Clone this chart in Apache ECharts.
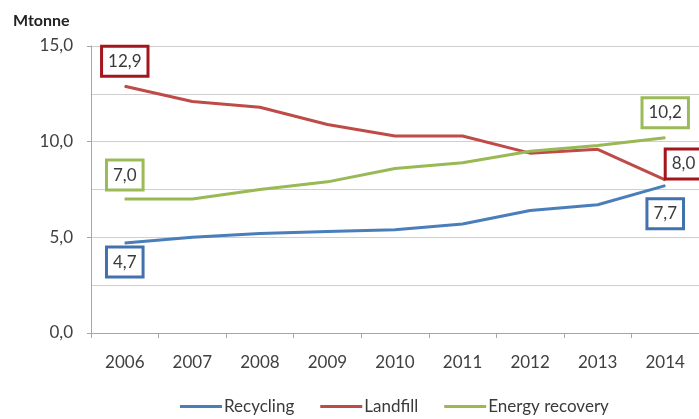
<!DOCTYPE html>
<html>
<head>
<meta charset="utf-8">
<script src="https://cdn.jsdelivr.net/npm/echarts@6/dist/echarts.min.js"></script>
<style>html,body{margin:0;padding:0;background:#fff}#c{width:699px;height:419px}</style>
</head>
<body>
<div id="c"></div>
<script>
var years = ['2006','2007','2008','2009','2010','2011','2012','2013','2014'];
var recycling = [4.7, 5.0, 5.2, 5.3, 5.4, 5.7, 6.4, 6.7, 7.7];
var landfill = [12.9, 12.1, 11.8, 10.9, 10.3, 10.3, 9.4, 9.6, 8.0];
var energyRecovery = [7.0, 7.0, 7.5, 7.9, 8.6, 8.9, 9.5, 9.8, 10.2];
var seriesNames = ['Recycling', 'Landfill', 'Energy recovery'];
var yTicks = [0, 5, 10, 15];
var unitLabel = 'Mtonne';

var FONT = 'Lato';
function fmt(v){ return v.toFixed(1).replace('.', ','); }

function boxLabel(borderColor, pos, dist, offset){
  return {
    show: true, position: pos, distance: dist, offset: offset || [0,0],
    formatter: function(p){ return fmt(p.value); },
    color: '#3a3a3a', fontFamily: FONT, fontSize: 17, lineHeight: 19,
    backgroundColor: '#fff', borderColor: borderColor, borderWidth: 3, borderRadius: 0,
    padding: [4, 5, 4, 5]
  };
}
function build(vals, firstLbl, lastLbl){
  return vals.map(function(v, i){
    if (i === 0) return {value: v, label: firstLbl};
    if (i === vals.length - 1) return {value: v, label: lastLbl};
    return v;
  });
}
function lineSeries(name, color, vals, firstLbl, lastLbl, z){
  return {
    name: name, type: 'line', symbol: 'circle', symbolSize: 1, showSymbol: true, z: z,
    lineStyle: {color: color, width: 3}, itemStyle: {color: color},
    label: {show: false},
    data: build(vals, firstLbl, lastLbl)
  };
}

var chart = echarts.init(document.getElementById('c'), null, {renderer:'canvas'});
chart.setOption({
  animation: false,
  backgroundColor: '#fff',
  title: {
    text: unitLabel, left: 8, top: 8,
    textStyle: {fontFamily: FONT, fontSize: 16, fontWeight: 'bold', color: '#222'}
  },
  grid: {left: 91, right: -2, top: 46, bottom: 86, containLabel: false},
  legend: {
    left: 175, top: 393, itemWidth: 42, itemHeight: 3, itemGap: 26,
    icon: 'rect',
    textStyle: {fontFamily: FONT, fontSize: 17, color: '#3a3a3a', padding: [0,0,0,-3]},
    data: seriesNames
  },
  xAxis: {
    type: 'category', data: years, boundaryGap: true,
    axisLine: {lineStyle: {color: '#a6a6a6', width: 1}},
    axisTick: {show: true, length: 5, lineStyle: {color: '#a6a6a6'}},
    axisLabel: {fontFamily: FONT, fontSize: 17, color: '#404040', margin: 21}
  },
  yAxis: {
    type: 'value', min: 0, max: 15, interval: 5,
    axisLine: {show: true, lineStyle: {color: '#a6a6a6', width: 1}},
    axisTick: {show: true, length: 4, lineStyle: {color: '#a6a6a6'}},
    axisLabel: {fontFamily: FONT, fontSize: 17, color: '#404040', margin: 18,
      formatter: function(v){ return yTicks.indexOf(v) >= 0 ? fmt(v) : ''; }},
    splitLine: {show: true, lineStyle: {color: '#cfcfcf', width: 1}},
    minorTick: {show: false, splitNumber: 2},
    minorSplitLine: {show: true, lineStyle: {color: '#cfcfcf', width: 1}}
  },
  series: [
    lineSeries(seriesNames[0], '#4a7ebb', recycling,
      boxLabel('#4272ad', 'bottom', 5), boxLabel('#4272ad', 'bottom', 14), 3),
    lineSeries(seriesNames[1], '#be4b48', landfill,
      boxLabel('#a5161c', 'top', 11), boxLabel('#a5161c', 'right', 1, [0, -16]), 2),
    lineSeries(seriesNames[2], '#98b954', energyRecovery,
      boxLabel('#9bbb59', 'top', 10), boxLabel('#9bbb59', 'top', 11), 2)
  ]
});
</script>
</body>
</html>
